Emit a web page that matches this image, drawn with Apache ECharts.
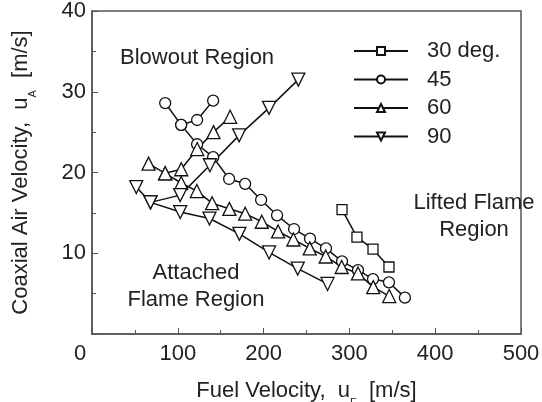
<!DOCTYPE html>
<html lang="en">
<head>
<meta charset="UTF-8">
<script src="https://cdn.jsdelivr.net/npm/echarts@6/dist/echarts.min.js"></script>
<style>
  html, body { margin: 0; padding: 0; background: #fff; }
  #chart { width: 542px; height: 402px; }
</style>
</head>
<body>
<div id="chart"></div>
<script>
// 30 deg. (squares)
var sqX = [291.4, 308.8, 327.5, 346.1];
var sqY = [15.4, 12.0, 10.5, 8.3];
// 45 (circles) main line + blowout branch
var ciX = [85.3, 103.9, 122.5, 141.2, 159.8, 178.5, 197.1, 215.7, 235.5, 254.1, 272.7, 291.4, 310.0, 327.5, 346.1, 364.7];
var ciY = [28.6, 25.9, 23.5, 21.9, 19.2, 18.6, 16.6, 14.7, 13.0, 11.8, 10.6, 9.0, 7.9, 6.8, 6.4, 4.5];
var ciBX = [103.9, 122.5, 141.2];
var ciBY = [25.9, 26.5, 28.9];
// 60 (triangles up)
var upX = [65.9, 85.3, 104.0, 122.2, 140.0, 160.1, 178.5, 197.9, 216.9, 234.7, 253.8, 272.4, 291.0, 310.0, 327.8, 346.4];
var upY = [21.1, 19.9, 18.7, 17.7, 16.2, 15.5, 14.9, 13.9, 12.7, 11.7, 10.6, 9.6, 8.3, 7.5, 5.8, 4.7];
var upBX = [85.3, 104.0, 122.6, 141.6, 161.0];
var upBY = [19.9, 20.4, 22.9, 25.0, 26.9];
// 90 (triangles down)
var dnX = [51.6, 68.2, 102.8, 136.9, 171.8, 206.4, 239.8, 274.5];
var dnY = [18.2, 16.3, 15.1, 14.3, 12.4, 10.1, 8.1, 6.2];
var dnBX = [68.2, 102.8, 137.4, 171.5, 206.4, 240.5];
var dnBY = [16.3, 17.2, 20.9, 24.6, 28.0, 31.5];

var names = ['30 deg.', '45', '60', '90'];
var xTicks = [0, 100, 200, 300, 400, 500];
var yTicks = [0, 10, 20, 30, 40];

function pts(xs, ys) {
  return xs.map(function (x, i) { return [x, ys[i]]; });
}

var font = 'Liberation Sans, Arial, sans-serif';
var ink = '#111';

function mk(name, xs, ys, symbol, size, rot) {
  return {
    name: name,
    type: 'line',
    data: pts(xs, ys),
    symbol: symbol,
    symbolSize: size,
    symbolRotate: rot || 0,
    showAllSymbol: true,
    lineStyle: { color: ink, width: 1.5 },
    itemStyle: { color: '#fff', borderColor: ink, borderWidth: 1.3 },
    z: 3
  };
}

// subscript style for the axis names
var subRich = {
  m: { fontSize: 22, color: '#222', lineHeight: 24, verticalAlign: 'top' },
  s: { fontSize: 11, color: '#222', lineHeight: 11, verticalAlign: 'top', padding: [17, 0, 0, 0] }
};

var chart = echarts.init(document.getElementById('chart'));
chart.setOption({
  animation: false,
  textStyle: { fontFamily: font },
  grid: {
    left: 92, right: 21, top: 11, bottom: 68,
    outerBoundsMode: 'none',
    show: true, borderColor: '#555', borderWidth: 1.5
  },
  legend: {
    data: names,
    orient: 'vertical',
    left: 353, top: 40, padding: 0,
    itemWidth: 54, itemHeight: 10,
    itemGap: 6.5,
    textStyle: { fontSize: 22, color: '#222', lineHeight: 22, padding: [0, 0, 0, 14] }
  },
  xAxis: {
    type: 'value', min: 0, max: 500, interval: 100,
    name: '{m|Fuel Velocity,  u}{s|F}{m|  [m/s]}',
    nameLocation: 'middle', nameGap: 46,
    nameTextStyle: { fontSize: 22, color: '#222', rich: subRich },
    axisLine: { lineStyle: { color: '#555', width: 1.5 } },
    axisTick: { inside: true, length: 6, lineStyle: { color: '#555' } },
    minorTick: { show: true, splitNumber: 2, length: 4, lineStyle: { color: '#555' } },
    splitLine: { show: false },
    axisLabel: {
      fontSize: 22, color: '#222', margin: 9,
      formatter: function (v) { return v === 0 ? '{z|0}' : String(v); },
      rich: { z: { fontSize: 22, color: '#222', padding: [0, 24, 0, 0] } }
    }
  },
  yAxis: {
    type: 'value', min: 0, max: 40, interval: 10,
    name: '{m|Coaxial Air Velocity,  u}{s|A}{m|  [m/s]}',
    nameLocation: 'middle', nameGap: 58,
    nameTextStyle: { fontSize: 22, color: '#222', rich: subRich },
    axisLine: { lineStyle: { color: '#555', width: 1.5 } },
    axisTick: { inside: true, length: 6, lineStyle: { color: '#555' } },
    minorTick: { show: true, splitNumber: 2, length: 4, lineStyle: { color: '#555' } },
    splitLine: { show: false },
    axisLabel: {
      fontSize: 22, color: '#222', margin: 6,
      formatter: function (v) { return v === 0 ? '' : String(v); }
    }
  },
  graphic: [
    { type: 'text', left: 120, top: 47, style: { text: 'Blowout Region', font: '22px ' + font, fill: '#222' } },
    { type: 'text', x: 474, y: 189, style: { text: 'Lifted Flame\nRegion', font: '22px ' + font, fill: '#222', align: 'center', lineHeight: 27 } },
    { type: 'text', x: 196, y: 259, style: { text: 'Attached\nFlame Region', font: '22px ' + font, fill: '#222', align: 'center', lineHeight: 27 } }
  ],
  series: [
    mk(names[0], sqX, sqY, 'rect', 10),
    mk(names[1], ciX, ciY, 'circle', 11),
    mk(names[1], ciBX, ciBY, 'circle', 11),
    mk(names[2], upX, upY, 'triangle', 13),
    mk(names[2], upBX, upBY, 'triangle', 13),
    mk(names[3], dnX, dnY, 'triangle', 13, 180),
    mk(names[3], dnBX, dnBY, 'triangle', 13, 180)
  ]
});
</script>
</body>
</html>
